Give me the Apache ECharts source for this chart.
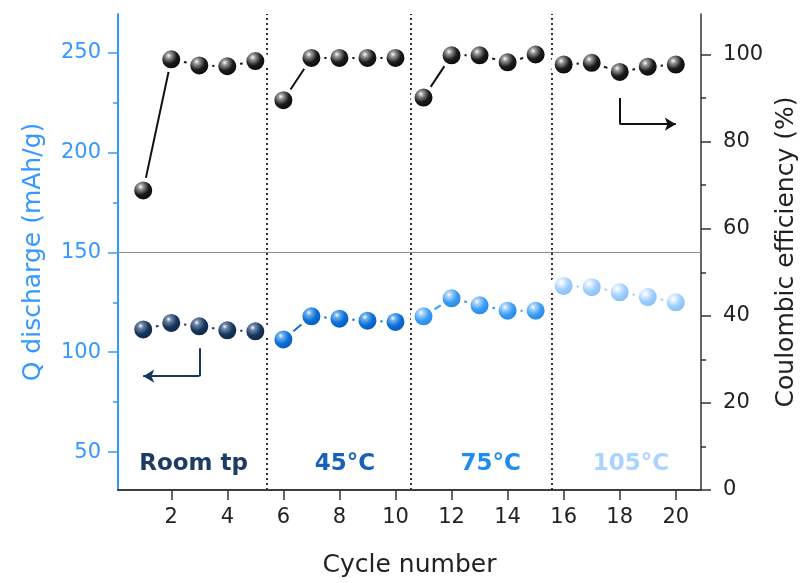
<!DOCTYPE html>
<html><head><meta charset="utf-8">
<script src="https://cdn.jsdelivr.net/npm/echarts@6/dist/echarts.min.js"></script>
<style>html,body{margin:0;padding:0;background:#fff}#c{width:807px;height:583px}</style>
</head><body><div id="c"></div>
<script>
// ---- data ----
const cycles = [1,2,3,4,5,6,7,8,9,10,11,12,13,14,15,16,17,18,19,20];
const qDischarge = [111.4,114.7,113.0,111.0,110.5, 106.4,118.0,116.8,115.8,115.2, 118.0,127.0,123.5,120.8,120.8, 133.2,132.6,130.0,127.6,125.0];
const coulombicEff = [68.8,98.9,97.5,97.3,98.5, 89.5,99.2,99.2,99.2,99.2, 90.1,99.8,99.8,98.2,100.0, 97.7,98.1,96.0,97.2,97.7];
const groupNames = ['Room tp','45°C','75°C','105°C'];
const groupStart = [0,5,10,15];
const groupLen = 5;
const xTicks = [2,4,6,8,10,12,14,16,18,20];
const qTicks = [50,100,150,200,250];
const qMinorTicks = [75,125,175,225];
const ceTicks = [0,20,40,60,80,100];
const ceMinorTicks = [10,30,50,70,90];
const boundaries = [5.42,10.56,15.56];

// ---- styles ----
const FONT = 'DejaVu Sans';
const groupColors = ['#17375f','#0b6fd8','#3b9cf6','#9ccdff'];
const groupLight  = ['#6f88aa','#6fb0f0','#a9d3fb','#e3f1ff'];
const groupDark   = ['#0a1d36','#0652a6','#1f7fd6','#7fb8f0'];
const labelColors = ['#1d3b66','#1762b8','#1e8cf0','#a9d4ff'];
const blue = '#3399ff';
const labelPos = [[2.8,44],[8.2,44],[13.4,44],[18.4,44]];

function sphere(light, base, dark){
  return {type:'radial', x:0.4, y:0.36, r:0.62, colorStops:[
    {offset:0, color:'#ffffff'},
    {offset:0.16, color:light},
    {offset:0.5, color:base},
    {offset:1, color:dark}
  ]};
}
function pairs(vals, g){
  const out=[];
  for(let i=groupStart[g];i<groupStart[g]+groupLen;i++) out.push([cycles[i], vals[i]]);
  return out;
}

const series = [];
for(let g=0; g<4; g++){
  series.push({
    name:'Q '+groupNames[g], type:'line', xAxisIndex:0, yAxisIndex:0,
    data: pairs(qDischarge,g), symbol:'circle', symbolSize:22,
    lineStyle:{color:groupColors[g], width:2},
    itemStyle:{color:sphere(groupLight[g],groupColors[g],groupDark[g]), borderColor:'#fff', borderWidth:4},
    z:3, silent:true,
    markPoint:{symbol:'circle', symbolSize:1, itemStyle:{color:'rgba(0,0,0,0)'},
      label:{show:true, position:'inside', formatter:groupNames[g], fontFamily:FONT, fontSize:23, fontWeight:'bold', color:labelColors[g]},
      data:[{coord:labelPos[g]}]}
  });
  series.push({
    name:'CE '+groupNames[g], type:'line', xAxisIndex:0, yAxisIndex:1,
    data: pairs(coulombicEff,g), symbol:'circle', symbolSize:22,
    lineStyle:{color:'#111', width:2},
    itemStyle:{color:sphere('#9a9a9a','#1c1c1c','#000000'), borderColor:'#fff', borderWidth:4},
    z:3, silent:true
  });
}
// reference lines: separator at Q=150 and dotted temperature boundaries
series[0].markLine = {
  silent:true, symbol:['none','none'], label:{show:false}, z:1,
  data:[
    {yAxis:150, lineStyle:{color:'#8a8a8a', width:1, type:'solid'}},
    ...boundaries.map(b=>({xAxis:b, lineStyle:{color:'#333', width:2, type:[2,3]}})),
    [{coord:[3,102], symbol:'none', lineStyle:{color:groupColors[0], width:2, type:'solid'}},{coord:[3,88], symbol:'none'}],
    [{coord:[3,88], symbol:'none', lineStyle:{color:groupColors[0], width:2, type:'solid'}},{coord:[1,88], symbol:'arrow', symbolSize:[10,11]}]
  ]
};
series[7].markLine = {
  silent:true, symbol:['none','none'], label:{show:false},
  data:[
    [{coord:[18,90], symbol:'none', lineStyle:{color:'#111', width:2, type:'solid'}},{coord:[18,84], symbol:'none'}],
    [{coord:[18,84], symbol:'none', lineStyle:{color:'#111', width:2, type:'solid'}},{coord:[20,84], symbol:'arrow', symbolSize:[10,11]}]
  ]
};

const chart = echarts.init(document.getElementById('c'), null, {renderer:'canvas'});
chart.setOption({
  animation:false,
  backgroundColor:'#fff',
  grid:{left:118, right:94, top:14, bottom:90, containLabel:false},
  xAxis:[
    {type:'value', min:0.1, max:20.9, position:'bottom',
     name:'Cycle number', nameLocation:'middle', nameGap:63,
     nameTextStyle:{fontFamily:FONT, fontSize:25, color:'#222'},
     axisLine:{show:true, lineStyle:{color:'#333', width:1.5}},
     axisTick:{show:true, length:10, lineStyle:{color:'#333', width:1.5}, customValues:xTicks},
     axisLabel:{fontFamily:FONT, fontSize:21, color:'#222', margin:17, customValues:xTicks},
     splitLine:{show:false}},
    {type:'value', min:0.1, max:20.9, position:'top',
     axisLine:{show:true, lineStyle:{color:'#333', width:1.5}},
     axisTick:{show:false}, axisLabel:{show:false}, splitLine:{show:false}}
  ],
  yAxis:[
    {type:'value', min:31, max:269.4, position:'left',
     name:'Q discharge (mAh/g)', nameLocation:'middle', nameGap:72,
     nameTextStyle:{fontFamily:FONT, fontSize:25, color:blue},
     axisLine:{show:true, lineStyle:{color:blue, width:2}},
     axisTick:{show:true, length:10, lineStyle:{color:blue, width:1.5}, customValues:qTicks},
     axisLabel:{fontFamily:FONT, fontSize:21, color:blue, margin:17, customValues:qTicks},
     splitLine:{show:false}},
    {type:'value', min:0, max:109.3, position:'right',
     name:'Coulombic efficiency (%)', nameLocation:'middle', nameGap:66,
     nameTextStyle:{fontFamily:FONT, fontSize:25, color:'#222'},
     axisLine:{show:true, lineStyle:{color:'#333', width:1.5}},
     axisTick:{show:true, length:10, lineStyle:{color:'#333', width:1.5}, customValues:ceTicks},
     axisLabel:{fontFamily:FONT, fontSize:21, color:'#222', margin:22, customValues:ceTicks},
     splitLine:{show:false}},
    {type:'value', min:31, max:269.4, position:'left',
     axisLine:{show:false},
     axisTick:{show:true, length:5, lineStyle:{color:blue, width:1.5}, customValues:qMinorTicks},
     axisLabel:{show:false}, splitLine:{show:false}},
    {type:'value', min:0, max:109.3, position:'right',
     axisLine:{show:false},
     axisTick:{show:true, length:5, lineStyle:{color:'#333', width:1.5}, customValues:ceMinorTicks},
     axisLabel:{show:false}, splitLine:{show:false}}
  ],
  series: series
});
</script>
</body></html>
